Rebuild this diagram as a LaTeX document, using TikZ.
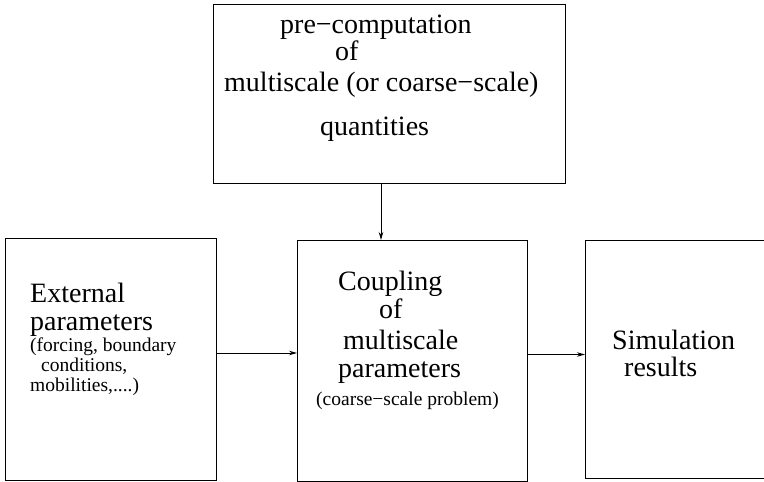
\documentclass[tikz,border=0pt]{standalone}
\usepackage{fontspec}
\setmainfont{Liberation Serif}
\usetikzlibrary{arrows.meta}
\begin{document}
\begin{tikzpicture}[x=1pt,y=-1pt,
  box/.style={draw, line width=0.9pt, minimum width=#1, inner sep=0pt, outer sep=0pt},
  big/.style={anchor=base west, inner sep=0pt, font=\fontsize{28}{30}\selectfont},
  small/.style={anchor=base west, inner sep=0pt, font=\fontsize{19.5}{22}\selectfont},
  conn/.style={line width=0.8pt, -{Stealth[length=8pt,width=4.5pt]}}]
\useasboundingbox (0,0) rectangle (764,482);
\node[box=352pt, minimum height=179pt] (top) at (389,93.5) {};
\node[box=211pt, minimum height=242pt] (left) at (110.5,359) {};
\node[box=230pt, minimum height=241pt] (mid) at (412,360.5) {};
\node[box=220pt, minimum height=238pt] (right) at (695,359) {};
% top texts
\node[big] (t1) at (280,33) {pre−computation};
\node[big] (t2) at (335,60) {of};
\node[big] (t3) at (224,91) {multiscale (or coarse−scale)};
\node[big] (t4) at (320,135) {quantities};
% left texts
\node[big] (l1) at (30,302) {External};
\node[big] (l2) at (30,330) {parameters};
\node[small] (l3) at (30,351) {(forcing, boundary};
\node[small] (l4) at (41,371) {conditions,};
\node[small] (l5) at (30,391) {mobilities,....)};
% middle texts
\node[big] (m1) at (338,290) {Coupling};
\node[big] (m2) at (379,318) {of};
\node[big] (m3) at (343,349) {multiscale};
\node[big] (m4) at (338,377) {parameters};
\node[small] (m5) at (316,405) {(coarse−scale problem)};
% right texts
\node[big] (r1) at (612,349) {Simulation};
\node[big] (r2) at (624,376) {results};
% connectors
\draw[conn] ([xshift=-8pt]top.south) -- ([xshift=-8pt]top.south |- mid.north);
\draw[conn] ([yshift=6pt]left.east) -- ([yshift=6pt]left.east -| mid.west);
\draw[conn] ([yshift=6pt]mid.east) -- ([yshift=6pt]mid.east -| right.west);
\end{tikzpicture}
\end{document}
